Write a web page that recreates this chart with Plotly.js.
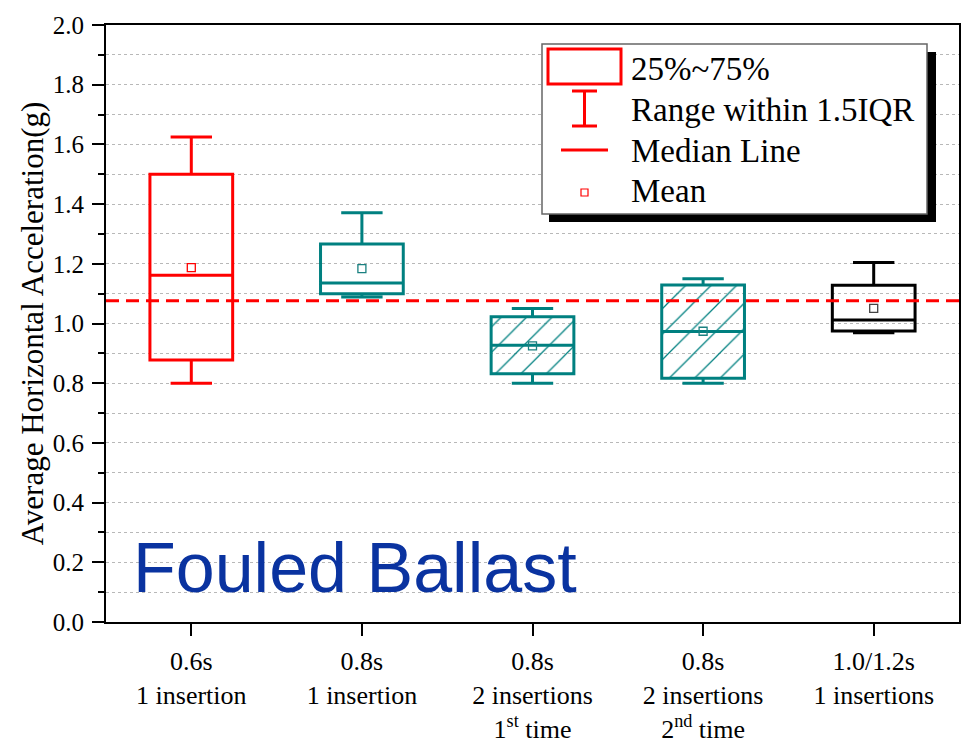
<!DOCTYPE html>
<html>
<head>
<meta charset="utf-8">
<script src="https://cdn.plot.ly/plotly-3.0.1.min.js"></script>
<style>html,body{margin:0;padding:0;background:#fff;}#chart{width:962px;height:744px;}</style>
</head>
<body>
<div id="chart"></div>
<script>
// ---- data ----
const categories = [
  '0.6s<br>1 insertion',
  '0.8s<br>1 insertion',
  '0.8s<br>2 insertions<br>1<sup>st</sup> time',
  '0.8s<br>2 insertions<br>2<sup>nd</sup> time',
  '1.0/1.2s<br>1 insertions'
];
const lowerWhisker = [0.800, 1.089, 0.800, 0.800, 0.969];
const q1Values     = [0.878, 1.100, 0.832, 0.817, 0.975];
const medianValues = [1.162, 1.136, 0.927, 0.973, 1.012];
const q3Values     = [1.500, 1.266, 1.023, 1.129, 1.128];
const upperWhisker = [1.625, 1.371, 1.050, 1.150, 1.204];
const meanValues   = [1.187, 1.184, 0.925, 0.974, 1.051];
const hatched      = [false, false, true, true, false];
const referenceLine = 1.076;
const legendLabels = ['25%~75%', 'Range within 1.5IQR', 'Median Line', 'Mean'];
const yTitle = 'Average Horizontal Acceleration(g)';
const panelLabel = 'Fouled Ballast';

// ---- styles ----
const boxColors  = ['#ff0000', '#008080', '#008080', '#008080', '#000000'];
const meanColors = ['#ff0000', '#1a8080', '#1a8080', '#1a8080', '#444444'];
const serif = '"Liberation Serif", "Times New Roman", serif';

// plot-area geometry in pixels (for legend decoration placement)
const L = 106, R = 959, T = 25, B = 622;
const px = x => (x - L) / (R - L);
const py = y => (B - y) / (B - T);

const traces = [];

// hatch fill for hatched boxes (bar from q1 to q3)
const hx = [], hb = [], hh = [];
categories.forEach((c, i) => { if (hatched[i]) { hx.push(c); hb.push(q1Values[i]); hh.push(q3Values[i] - q1Values[i]); } });
traces.push({
  type: 'bar', x: hx, base: hb, y: hh, width: 0.485,
  marker: { color: 'rgba(0,0,0,0)', line: { width: 0 },
            pattern: { shape: '/', fgcolor: '#008080', bgcolor: 'rgba(0,0,0,0)', size: 18, solidity: 0.07 } },
  showlegend: false, hoverinfo: 'skip'
});

// boxes
categories.forEach((c, i) => {
  traces.push({
    type: 'box', x: [c],
    q1: [q1Values[i]], median: [medianValues[i]], q3: [q3Values[i]],
    lowerfence: [lowerWhisker[i]], upperfence: [upperWhisker[i]],
    boxpoints: false, width: 0.485, whiskerwidth: 0.5,
    line: { color: boxColors[i], width: 3 },
    fillcolor: 'rgba(0,0,0,0)',
    showlegend: false, hoverinfo: 'skip'
  });
});

// means
traces.push({
  type: 'scatter', mode: 'markers', x: categories, y: meanValues,
  marker: { symbol: 'square-open', size: 8, color: meanColors, line: { width: 1.3 } },
  showlegend: false, hoverinfo: 'skip', cliponaxis: false
});

// legend decoration
const shapes = [
  { type: 'line', xref: 'paper', x0: 0, x1: 1, yref: 'y', y0: referenceLine, y1: referenceLine,
    line: { color: '#ff0000', width: 3, dash: '13px,7px' }, layer: 'above' },
  { type: 'rect', xref: 'paper', yref: 'paper', x0: px(549), x1: px(936), y0: py(52), y1: py(222),
    fillcolor: '#000', line: { width: 0 }, layer: 'above' },
  { type: 'rect', xref: 'paper', yref: 'paper', x0: px(542), x1: px(927), y0: py(44), y1: py(214),
    fillcolor: '#fff', line: { color: '#666', width: 1.5 }, layer: 'above' },
  { type: 'rect', xref: 'paper', yref: 'paper', x0: px(548), x1: px(621), y0: py(49), y1: py(84),
    fillcolor: 'rgba(0,0,0,0)', line: { color: '#ff0000', width: 3 }, layer: 'above' },
  { type: 'line', xref: 'paper', yref: 'paper', x0: px(584.5), x1: px(584.5), y0: py(91), y1: py(126),
    line: { color: '#ff0000', width: 3 }, layer: 'above' },
  { type: 'line', xref: 'paper', yref: 'paper', x0: px(572), x1: px(597), y0: py(91), y1: py(91),
    line: { color: '#ff0000', width: 3 }, layer: 'above' },
  { type: 'line', xref: 'paper', yref: 'paper', x0: px(572), x1: px(597), y0: py(126), y1: py(126),
    line: { color: '#ff0000', width: 3 }, layer: 'above' },
  { type: 'line', xref: 'paper', yref: 'paper', x0: px(561), x1: px(608), y0: py(150), y1: py(150),
    line: { color: '#ff0000', width: 3 }, layer: 'above' },
  { type: 'rect', xref: 'paper', yref: 'paper', x0: px(581), x1: px(588), y0: py(189), y1: py(196),
    fillcolor: 'rgba(0,0,0,0)', line: { color: '#ff0000', width: 1.2 }, layer: 'above' }
];

const legendY = [69, 110, 151, 191];
const annotations = legendLabels.map((t, i) => ({
  xref: 'paper', yref: 'paper', x: px(629), y: py(legendY[i]), xanchor: 'left', yanchor: 'middle',
  text: t, showarrow: false, font: { family: serif, size: 33, color: '#000' }
}));
annotations.push({
  xref: 'paper', yref: 'paper', x: px(131), y: py(568), xanchor: 'left', yanchor: 'middle',
  text: panelLabel, showarrow: false, font: { family: '"Liberation Sans", Arial, sans-serif', size: 70, color: '#0a33a0' }
});

const layout = {
  width: 962, height: 744,
  font: { family: serif, size: 25, color: '#000' },
  margin: { l: L, r: 962 - R, t: T, b: 744 - B, pad: 0 },
  paper_bgcolor: '#fff', plot_bgcolor: '#fff',
  showlegend: false,
  boxmode: 'overlay',
  xaxis: {
    type: 'category', categoryorder: 'array', categoryarray: categories,
    range: [-0.5, 4.5], fixedrange: true,
    showline: true, linecolor: '#000', linewidth: 2, mirror: true,
    ticks: 'outside', ticklen: 12, tickwidth: 2, tickcolor: '#000',
    ticklabelstandoff: 3,
    showgrid: false, zeroline: false,
    tickfont: { family: serif, size: 26, color: '#000' }
  },
  yaxis: {
    range: [0, 2.0], dtick: 0.2, tick0: 0, tickformat: '.1f',
    showline: true, linecolor: '#000', linewidth: 2, mirror: true,
    ticks: 'outside', ticklen: 12, tickwidth: 2, tickcolor: '#000',
    ticklabelstandoff: 3,
    showgrid: true, gridcolor: '#b8b8b8', gridwidth: 1, griddash: 'dot',
    zeroline: false,
    minor: { dtick: 0.1, ticks: 'outside', ticklen: 6, tickwidth: 2, tickcolor: '#000',
             showgrid: true, gridcolor: '#b8b8b8', gridwidth: 1, griddash: 'dot' },
    tickfont: { family: serif, size: 25, color: '#000' },
    title: { text: yTitle, font: { family: serif, size: 31, color: '#000' }, standoff: 0 }
  },
  shapes: shapes,
  annotations: annotations
};

Plotly.newPlot('chart', traces, layout, { staticPlot: true, displayModeBar: false });
</script>
</body>
</html>
